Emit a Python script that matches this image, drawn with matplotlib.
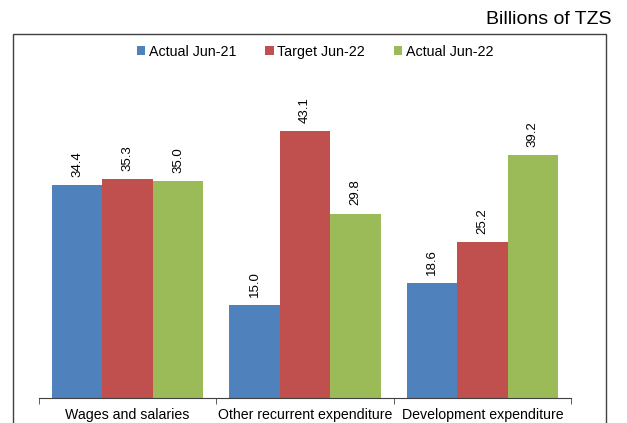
import numpy as np
import matplotlib.pyplot as plt
from matplotlib.patches import Rectangle

plt.rcParams['font.family'] = ['Liberation Sans', 'DejaVu Sans']

categories = ['Wages and salaries', 'Other recurrent expenditure', 'Development expenditure']
series_names = ['Actual Jun-21', 'Target Jun-22', 'Actual Jun-22']
actual_jun21 = [34.4, 15.0, 18.6]
target_jun22 = [35.3, 43.1, 25.2]
actual_jun22 = [35.0, 29.8, 39.2]
colors = ['#4F81BD', '#C0504D', '#9BBB59']

W, H = 627, 423
fig = plt.figure(figsize=(W / 100, H / 100), dpi=100)

# outer chart frame
fig.patches.append(Rectangle((13 / W, -0.05), 593 / W, 1.05 - 34 / H,
                             transform=fig.transFigure, fill=False,
                             edgecolor='#404040', linewidth=1.0))

ax = fig.add_axes([39 / W, 1 - 398 / H, 532 / W, 309.5 / H])
ax.set_xlim(-0.5, 2.5)
ax.set_ylim(0, 50)

x = np.arange(len(categories))
bw = 0.284
for i, (vals, name, c) in enumerate(zip([actual_jun21, target_jun22, actual_jun22],
                                         series_names, colors)):
    bars = ax.bar(x + (i - 1) * bw, vals, bw, color=c, label=name)
    for b, v in zip(bars, vals):
        ax.annotate(f'{v:.1f}', (b.get_x() + b.get_width() / 2, v),
                    xytext=(0, 6), textcoords='offset points',
                    ha='center', va='bottom', rotation=90, fontsize=9.5)

for s in ['top', 'left', 'right']:
    ax.spines[s].set_visible(False)
ax.spines['bottom'].set_color('#404040')
ax.set_yticks([])
ax.set_xticks(x)
ax.set_xticklabels(categories, fontsize=10.2)
ax.tick_params(axis='x', which='major', length=0, pad=7)
ax.set_xticks([-0.5, 0.5, 1.5, 2.5], minor=True)
ax.tick_params(axis='x', which='minor', length=4, color='#404040', direction='out')

fig.text(612 / W, 1 - 20 / H, 'Billions of TZS', ha='right', va='center', fontsize=14)

fig.legend(loc='center', bbox_to_anchor=(315 / W, 1 - 52 / H), ncol=3,
           frameon=False, fontsize=10.3, handlelength=0.6, handleheight=0.6,
           handletextpad=0.25, columnspacing=2.0)

fig.savefig('out.png', dpi=100)
